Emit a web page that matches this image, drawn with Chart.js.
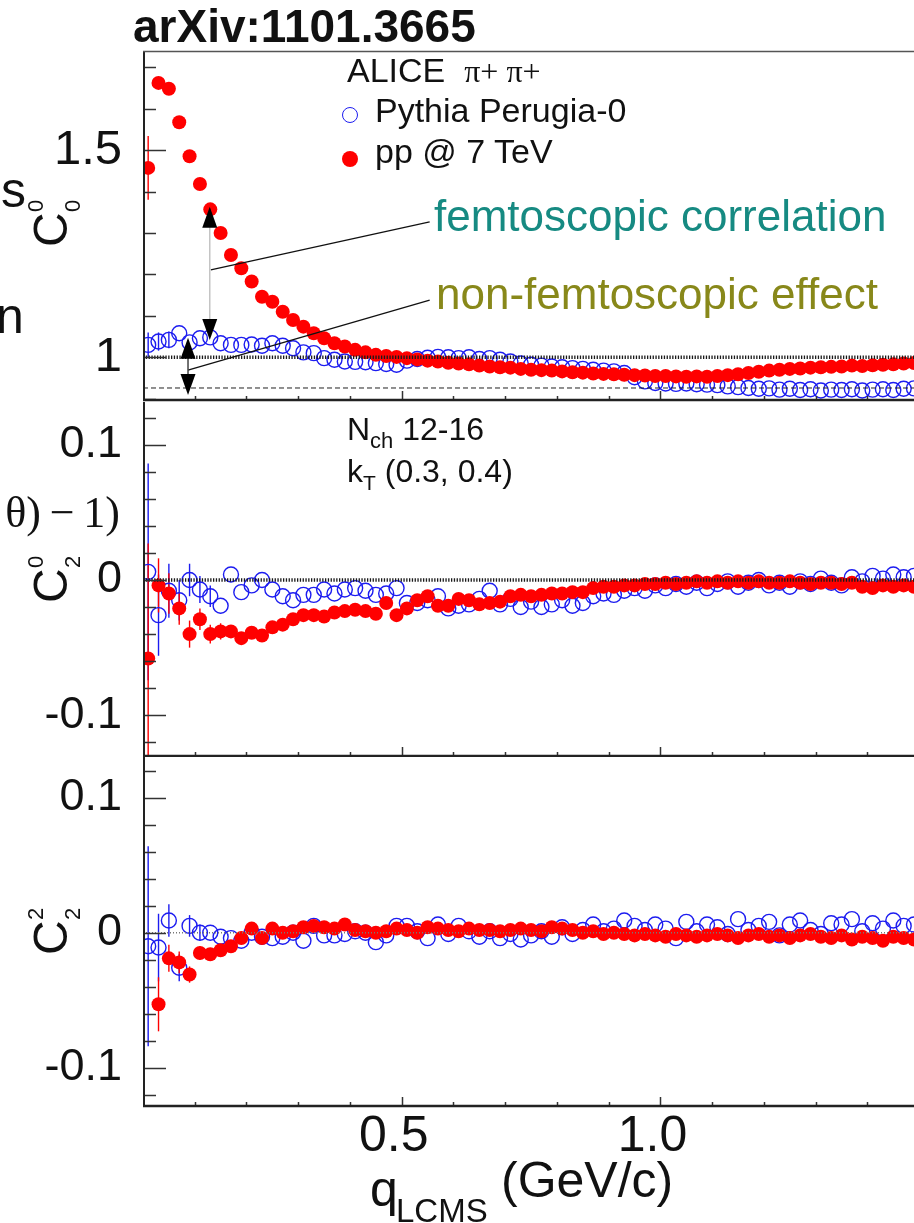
<!DOCTYPE html>
<html>
<head>
<meta charset="utf-8">
<title>C0_0, C0_2, C2_2 vs q_LCMS</title>
<script src="https://cdn.jsdelivr.net/npm/chart.js@4.4.1/dist/chart.umd.min.js"></script>
<style>
  body { margin: 0; width: 914px; height: 1223px; overflow: hidden; background: #fff; position: relative; }
  canvas { position: absolute; left: 0; }
  .t { position: absolute; white-space: nowrap; line-height: 1; color: #111; font-family: "Liberation Sans", Arial, sans-serif; }
  .serif { font-family: "Liberation Serif", "DejaVu Serif", serif; }
  .ytit { position: absolute; width: 0; height: 0; transform: rotate(-90deg); transform-origin: 0 0; }
  .ytit span { position: absolute; line-height: 1; white-space: nowrap; color: #111; font-family: "Liberation Sans", Arial, sans-serif; }
</style>
</head>
<body>
<canvas id="pC00" width="914" height="402" style="top:0"></canvas>
<canvas id="pC02" width="914" height="355" style="top:402px"></canvas>
<canvas id="pC22" width="914" height="466" style="top:757px"></canvas>

<!-- cut-off slide text on the left -->
<div class="t" style="left:1px; top:165px; font-size:50px;">s</div>
<div class="t" style="left:-4px; top:291px; font-size:50px;">n</div>
<div class="t serif" style="right:794px; top:491px; font-size:44px;">θ)&#8201;−&#8201;1)</div>

<div class="t" style="left:133px; top:3px; font-size:46px; font-weight:bold;">arXiv:1101.3665</div>

<!-- y axis titles -->
<div class="ytit" style="left:28px; top:245px;">
  <span style="left:-2px; top:-1px; font-size:48px;">C</span>
  <span style="left:33px; top:-3px; font-size:22px;">0</span>
  <span style="left:33px; top:34px; font-size:22px;">0</span>
</div>
<div class="ytit" style="left:28px; top:601px;">
  <span style="left:-2px; top:-1px; font-size:48px;">C</span>
  <span style="left:33px; top:-3px; font-size:22px;">0</span>
  <span style="left:33px; top:34px; font-size:22px;">2</span>
</div>
<div class="ytit" style="left:28px; top:953px;">
  <span style="left:-2px; top:-1px; font-size:48px;">C</span>
  <span style="left:33px; top:-3px; font-size:22px;">2</span>
  <span style="left:33px; top:34px; font-size:22px;">2</span>
</div>

<!-- legend -->
<div class="t" style="left:347px; top:53px; font-size:34px;">ALICE&nbsp;&nbsp;<span class="serif" style="font-size:32px;">π+ π+</span></div>
<span class="t" style="left:342px; top:107px; width:16px; height:16px; border:1.5px solid #1c1cf0; border-radius:50%; box-sizing:border-box;"></span>
<div class="t" style="left:375px; top:93px; font-size:34px;">Pythia Perugia-0</div>
<span class="t" style="left:342px; top:151px; width:16px; height:16px; background:#ff0000; border-radius:50%;"></span>
<div class="t" style="left:375px; top:134px; font-size:34px;">pp @ 7 TeV</div>

<div class="t" style="left:434px; top:194px; font-size:44px; color:#168a82;">femtoscopic correlation</div>
<div class="t" style="left:436px; top:272px; font-size:44px; color:#88881a;">non-femtoscopic effect</div>

<div class="t" style="left:347px; top:413px; font-size:32px;">N<span style="font-size:22px; position:relative; top:8px;">ch</span> 12-16</div>
<div class="t" style="left:347px; top:455px; font-size:32px;">k<span style="font-size:21px; position:relative; top:8px;">T</span> (0.3, 0.4)</div>

<!-- x axis title -->
<div class="t" style="left:370px; top:1164px; font-size:50px;">q</div>
<div class="t" style="left:396px; top:1194px; font-size:33px;">LCMS</div>
<div class="t" style="left:501px; top:1155px; font-size:50px;">(GeV/c)</div>

<script>
// bin centres of q_LCMS (GeV/c)
const qBins = [0.01, 0.03, 0.05, 0.07, 0.09, 0.11, 0.13, 0.15, 0.17, 0.19,
  0.21, 0.23, 0.25, 0.27, 0.29, 0.31, 0.33, 0.35, 0.37, 0.39,
  0.41, 0.43, 0.45, 0.47, 0.49, 0.51, 0.53, 0.55, 0.57, 0.59,
  0.61, 0.63, 0.65, 0.67, 0.69, 0.71, 0.73, 0.75, 0.77, 0.79,
  0.81, 0.83, 0.85, 0.87, 0.89, 0.91, 0.93, 0.95, 0.97, 0.99,
  1.01, 1.03, 1.05, 1.07, 1.09, 1.11, 1.13, 1.15, 1.17, 1.19,
  1.21, 1.23, 1.25, 1.27, 1.29, 1.31, 1.33, 1.35, 1.37, 1.39,
  1.41, 1.43, 1.45, 1.47, 1.49];

// C^0_0 : pp @ 7 TeV (red) and Pythia Perugia-0 (blue)
const c00Data = [1.457, 1.662, 1.648, 1.567, 1.485, 1.418, 1.357, 1.300, 1.247, 1.215,
  1.183, 1.146, 1.134, 1.110, 1.090, 1.074, 1.058, 1.046, 1.034, 1.026,
  1.018, 1.012, 1.006, 1.003, 1.001, 0.998, 0.995, 0.992, 0.990, 0.987,
  0.985, 0.983, 0.980, 0.978, 0.976, 0.975, 0.972, 0.970, 0.969, 0.968,
  0.966, 0.964, 0.963, 0.961, 0.960, 0.959, 0.958, 0.957, 0.956, 0.955,
  0.955, 0.954, 0.953, 0.954, 0.953, 0.955, 0.957, 0.959, 0.962, 0.965,
  0.968, 0.970, 0.972, 0.973, 0.975, 0.976, 0.977, 0.978, 0.980, 0.979,
  0.981, 0.982, 0.983, 0.985, 0.986];
const c00DataErr = [0.077, 0.012, 0.010, 0.008, 0.007, 0.006];
const c00Mc = [1.030, 1.038, 1.042, 1.058, 1.036, 1.046, 1.048, 1.034, 1.030, 1.030,
  1.031, 1.028, 1.034, 1.028, 1.022, 1.012, 1.010, 0.998, 0.994, 0.990,
  0.989, 0.988, 0.986, 0.984, 0.982, 0.992, 0.996, 0.999, 1.001, 1.000,
  0.998, 1.000, 0.996, 0.998, 0.994, 0.990, 0.985, 0.982, 0.980, 0.978,
  0.976, 0.974, 0.972, 0.970, 0.968, 0.966, 0.962, 0.952, 0.942, 0.938,
  0.937, 0.936, 0.937, 0.935, 0.934, 0.933, 0.930, 0.928, 0.926, 0.924,
  0.925, 0.922, 0.924, 0.921, 0.923, 0.920, 0.922, 0.921, 0.923, 0.920,
  0.922, 0.923, 0.921, 0.924, 0.925];
const c00McErr = [0.030, 0.022, 0.020];

// C^0_2
const c02Data = [-0.058, -0.004, -0.010, -0.021, -0.040, -0.029, -0.040, -0.038, -0.038, -0.043,
  -0.039, -0.041, -0.035, -0.033, -0.029, -0.026, -0.026, -0.027, -0.024, -0.023,
  -0.022, -0.023, -0.025, -0.017, -0.026, -0.021, -0.015, -0.012, -0.019, -0.019,
  -0.014, -0.015, -0.018, -0.017, -0.016, -0.012, -0.011, -0.012, -0.011, -0.010,
  -0.010, -0.009, -0.009, -0.006, -0.005, -0.005, -0.004, -0.004, -0.003, -0.003,
  -0.002, -0.003, -0.002, -0.001, -0.002, -0.001, -0.002, -0.001, -0.002, -0.001,
  -0.002, -0.002, -0.001, -0.002, -0.003, -0.002, -0.002, -0.003, -0.002, -0.005,
  -0.006, -0.004, -0.005, -0.004, -0.005];
const c02DataErr = [0.085, 0.020, 0.015, 0.012, 0.010, 0.008, 0.007, 0.006];
const c02Mc = [0.006, -0.026, -0.008, -0.015, 0.000, -0.007, -0.012, -0.019, 0.004, -0.009,
  -0.004, 0.000, -0.007, -0.012, -0.015, -0.011, -0.011, -0.007, -0.010, -0.007,
  -0.006, -0.008, -0.011, -0.010, -0.006, -0.017, -0.017, -0.015, -0.012, -0.021,
  -0.019, -0.018, -0.014, -0.008, -0.018, -0.014, -0.020, -0.016, -0.020, -0.018,
  -0.015, -0.019, -0.017, -0.012, -0.010, -0.011, -0.008, -0.006, -0.008, -0.004,
  -0.006, -0.003, -0.005, -0.002, -0.006, -0.003, -0.001, -0.005, -0.002, 0.000,
  -0.004, -0.002, -0.005, -0.001, -0.003, 0.001, -0.002, -0.004, 0.002, -0.001,
  0.003, 0.001, 0.004, 0.002, 0.003];
const c02McErr = [0.080, 0.030, 0.020, 0.015, 0.012, 0.010, 0.008];

// C^2_2
const c22Data = [null, -0.053, -0.019, -0.022, -0.031, -0.015, -0.016, -0.013, -0.010, -0.004,
  0.003, -0.004, 0.003, 0.000, 0.001, 0.004, 0.005, 0.004, 0.003, 0.006,
  0.002, 0.001, 0.000, 0.001, 0.003, 0.002, 0.000, 0.004, 0.003, 0.002,
  0.001, 0.003, 0.002, 0.002, 0.001, 0.002, 0.003, 0.002, 0.001, 0.004,
  0.003, 0.002, 0.000, 0.001, -0.001, 0.000, -0.001, -0.002, -0.001, -0.002,
  -0.003, -0.001, -0.002, -0.003, -0.002, -0.001, -0.002, -0.004, -0.002, -0.001,
  -0.003, -0.002, -0.004, -0.002, -0.001, -0.003, -0.004, -0.002, -0.005, -0.003,
  -0.004, -0.006, -0.003, -0.004, -0.005];
const c22DataErr = [0, 0.020, 0.010, 0.008, 0.006, 0.005];
const c22Mc = [-0.010, -0.011, 0.009, -0.026, 0.005, 0.000, 0.000, -0.003, -0.004, -0.006,
  0.000, -0.003, -0.004, -0.003, 0.000, -0.006, 0.005, -0.002, -0.002, -0.001,
  0.001, 0.000, -0.007, -0.002, 0.005, 0.005, 0.001, -0.004, 0.006, -0.001,
  0.005, 0.001, -0.003, 0.001, -0.004, -0.001, -0.005, -0.002, 0.001, -0.003,
  0.004, -0.001, 0.002, 0.006, 0.001, 0.003, 0.009, 0.005, 0.002, 0.006,
  0.003, -0.004, 0.008, 0.001, 0.006, 0.004, -0.001, 0.010, 0.002, 0.005,
  0.008, -0.002, 0.006, 0.009, 0.002, -0.001, 0.007, 0.006, 0.010, 0.001,
  0.007, 0.003, 0.009, 0.005, 0.006];
const c22McErr = [0.074, 0.025, 0.012, 0.010, 0.008, 0.006];

// axis ticks
const qTicks = [0.1, 0.2, 0.3, 0.4, 0.5, 0.6, 0.7, 0.8, 0.9, 1.0, 1.1, 1.2, 1.3, 1.4];
const qTickLabels = [null, null, null, null, '0.5', null, null, null, null, '1.0', null, null, null, null];
const c00Ticks = [0.9, 1.0, 1.1, 1.2, 1.3, 1.4, 1.5, 1.6, 1.7];
const c00TickLabels = [null, '1', null, null, null, null, '1.5', null, null];
const c2Ticks = [-0.12, -0.1, -0.08, -0.06, -0.04, -0.02, 0, 0.02, 0.04, 0.06, 0.08, 0.1, 0.12];
const c2TickLabels = [null, '-0.1', null, null, null, null, '0', null, null, null, null, '0.1', null];

// reference levels and annotation marks (data units)
const c00Unity = 1.0;
const c00Baseline = 0.926;
const arrowFemto = { q: 0.129, from: 1.363, to: 1.042 };
const arrowNonFemto = { q: 0.087, from: 1.047, to: 0.909 };
const leaderFemto = [[0.131, 1.211], [0.554, 1.327]];
const leaderNonFemto = [[0.087, 0.969], [0.554, 1.138]];

const RED = '#ff0000';
const BLUE = '#1c1cf0';
const FONT = '"Liberation Sans", Arial, sans-serif';
const Q_MAX = 1.49;

function points(vals, errs, minErr) {
    return qBins.map((q, i) => ({ x: q, y: vals[i], err: errs[i] !== undefined ? errs[i] : minErr }))
        .filter(p => p.y !== null);
}

function refLine(yv, color, width, dash) {
    return {
        type: 'line', data: [{ x: 0, y: yv }, { x: Q_MAX, y: yv }],
        borderColor: color, borderWidth: width, borderDash: dash,
        pointRadius: 0, fill: false, order: 0
    };
}

const errorBars = {
    id: 'errorBars',
    beforeDatasetsDraw(chart) {
        const { ctx, chartArea: a, scales: { x, y } } = chart;
        ctx.save();
        ctx.beginPath();
        ctx.rect(a.left, a.top, a.right - a.left, a.bottom - a.top);
        ctx.clip();
        ctx.lineWidth = 1.4;
        chart.data.datasets.forEach(ds => {
            if (!ds.barColor) return;
            ctx.strokeStyle = ds.barColor;
            ds.data.forEach(p => {
                if (!p.err) return;
                const px = x.getPixelForValue(p.x);
                ctx.beginPath();
                ctx.moveTo(px, y.getPixelForValue(p.y + p.err));
                ctx.lineTo(px, y.getPixelForValue(p.y - p.err));
                ctx.stroke();
            });
        });
        ctx.restore();
    }
};

// ROOT style: ticks inside the frame, long ones for labelled values
const rootTicks = {
    id: 'rootTicks',
    afterDatasetsDraw(chart, args, opts) {
        const { ctx, chartArea: a, scales: { x, y } } = chart;
        ctx.save();
        ctx.strokeStyle = '#333';
        ctx.lineWidth = 1.5;
        opts.yTicks.forEach((v, i) => {
            const py = Math.round(y.getPixelForValue(v)) + 0.5;
            const len = opts.yLabels[i] ? 23 : 13;
            ctx.beginPath(); ctx.moveTo(a.left, py); ctx.lineTo(a.left + len, py); ctx.stroke();
        });
        qTicks.forEach((v, i) => {
            const px = Math.round(x.getPixelForValue(v)) + 0.5;
            const len = qTickLabels[i] ? 10 : 5;
            ctx.beginPath(); ctx.moveTo(px, a.bottom); ctx.lineTo(px, a.bottom - len); ctx.stroke();
        });
        ctx.strokeStyle = '#222';
        ctx.lineWidth = 2;
        ctx.beginPath(); ctx.moveTo(a.left + 1, a.top); ctx.lineTo(a.left + 1, a.bottom); ctx.stroke();
        ctx.lineWidth = 2.5;
        ctx.beginPath(); ctx.moveTo(a.left, a.bottom - 1); ctx.lineTo(a.right, a.bottom - 1); ctx.stroke();
        if (opts.topBorder) {
            ctx.strokeStyle = '#555';
            ctx.lineWidth = 1.5;
            ctx.beginPath(); ctx.moveTo(a.left, a.top + 0.5); ctx.lineTo(a.right, a.top + 0.5); ctx.stroke();
        }
        ctx.restore();
    }
};

const femtoNotes = {
    id: 'femtoNotes',
    afterDatasetsDraw(chart) {
        const { ctx, scales: { x, y } } = chart;
        ctx.save();
        ctx.strokeStyle = '#111';
        ctx.lineWidth = 1.3;
        [leaderFemto, leaderNonFemto].forEach(seg => {
            ctx.beginPath();
            ctx.moveTo(x.getPixelForValue(seg[0][0]), y.getPixelForValue(seg[0][1]));
            ctx.lineTo(x.getPixelForValue(seg[1][0]), y.getPixelForValue(seg[1][1]));
            ctx.stroke();
        });
        const drawArrow = (ar, shaft) => {
            const px = x.getPixelForValue(ar.q);
            const top = y.getPixelForValue(ar.from);
            const bot = y.getPixelForValue(ar.to);
            ctx.strokeStyle = shaft;
            ctx.lineWidth = 1.5;
            ctx.beginPath(); ctx.moveTo(px, top + 20); ctx.lineTo(px, bot - 20); ctx.stroke();
            ctx.fillStyle = '#000';
            ctx.beginPath(); ctx.moveTo(px, top); ctx.lineTo(px - 7.5, top + 21); ctx.lineTo(px + 7.5, top + 21); ctx.closePath(); ctx.fill();
            ctx.beginPath(); ctx.moveTo(px, bot); ctx.lineTo(px - 7.5, bot - 21); ctx.lineTo(px + 7.5, bot - 21); ctx.closePath(); ctx.fill();
        };
        drawArrow(arrowFemto, '#c4c4c4');
        drawArrow(arrowNonFemto, '#444');
        ctx.restore();
    }
};

function makePanel(id, o) {
    const datasets = [
        {
            label: 'Pythia Perugia-0', data: points(o.mc, o.mcErr, 0),
            pointStyle: 'circle', pointRadius: 7.5, pointBackgroundColor: 'rgba(0,0,0,0)',
            pointBorderColor: BLUE, pointBorderWidth: 1.4, barColor: BLUE, order: 2
        },
        {
            label: 'pp @ 7 TeV', data: points(o.data, o.dataErr, o.minErr),
            pointStyle: 'circle', pointRadius: 7, pointBackgroundColor: RED,
            pointBorderColor: RED, pointBorderWidth: 0, barColor: RED, order: 1
        }
    ].concat(o.refLines);

    return new Chart(document.getElementById(id), {
        type: 'scatter',
        data: { datasets: datasets },
        options: {
            responsive: false,
            animation: false,
            devicePixelRatio: 1,
            events: [],
            layout: { autoPadding: false, padding: o.padding },
            plugins: {
                legend: { display: false },
                tooltip: { enabled: false },
                rootTicks: { yTicks: o.yTicks, yLabels: o.yLabels, topBorder: !!o.topBorder }
            },
            scales: {
                x: {
                    type: 'linear', min: 0, max: Q_MAX, display: !!o.showX,
                    afterBuildTicks: ax => { ax.ticks = qTicks.map(v => ({ value: v })); },
                    afterFit: ax => {
                        ax.height = o.showX ? 116 : 0;
                        ax.paddingLeft = 0; ax.paddingRight = 0;
                    },
                    ticks: {
                        autoSkip: false, maxRotation: 0, padding: 0, labelOffset: -8,
                        color: '#111', font: { family: FONT, size: 50 },
                        callback: (v, i) => qTickLabels[i]
                    },
                    grid: { display: false, drawTicks: false },
                    border: { display: false }
                },
                y: {
                    type: 'linear', min: o.yMin, max: o.yMax,
                    afterBuildTicks: ax => { ax.ticks = o.yTicks.map(v => ({ value: v })); },
                    afterFit: ax => {
                        ax.width = 143;
                        ax.paddingTop = 0; ax.paddingBottom = 0;
                    },
                    ticks: {
                        autoSkip: false, padding: 21,
                        color: '#111', font: { family: FONT, size: o.labelSize },
                        callback: (v, i) => o.yLabels[i]
                    },
                    grid: { display: false, drawTicks: false },
                    border: { display: false }
                }
            }
        },
        plugins: [errorBars, rootTicks].concat(o.extra || [])
    });
}

makePanel('pC00', {
    data: c00Data, dataErr: c00DataErr, mc: c00Mc, mcErr: c00McErr, minErr: 0.004,
    yMin: 0.8946, yMax: 1.739, yTicks: c00Ticks, yLabels: c00TickLabels, labelSize: 49,
    padding: { top: 51, bottom: 1, left: 0, right: 0 }, topBorder: true,
    refLines: [refLine(c00Baseline, '#222', 1, [5, 3]), refLine(c00Unity, '#1a1a1a', 3.5, [1.3, 1.5])],
    extra: [femtoNotes]
});

makePanel('pC02', {
    data: c02Data, dataErr: c02DataErr, mc: c02Mc, mcErr: c02McErr, minErr: 0.004,
    yMin: -0.1308, yMax: 0.1315, yTicks: c2Ticks, yLabels: c2TickLabels, labelSize: 45,
    padding: { top: 0, bottom: 0, left: 0, right: 0 },
    refLines: [refLine(0, '#1a1a1a', 3.5, [1.3, 1.5])]
});

makePanel('pC22', {
    data: c22Data, dataErr: c22DataErr, mc: c22Mc, mcErr: c22McErr, minErr: 0.004,
    yMin: -0.129, yMax: 0.130, yTicks: c2Ticks, yLabels: c2TickLabels, labelSize: 45,
    padding: { top: 0, bottom: 0, left: 0, right: 0 }, showX: true,
    refLines: [refLine(0, '#777', 1.5, [1, 2])]
});
</script>
</body>
</html>
